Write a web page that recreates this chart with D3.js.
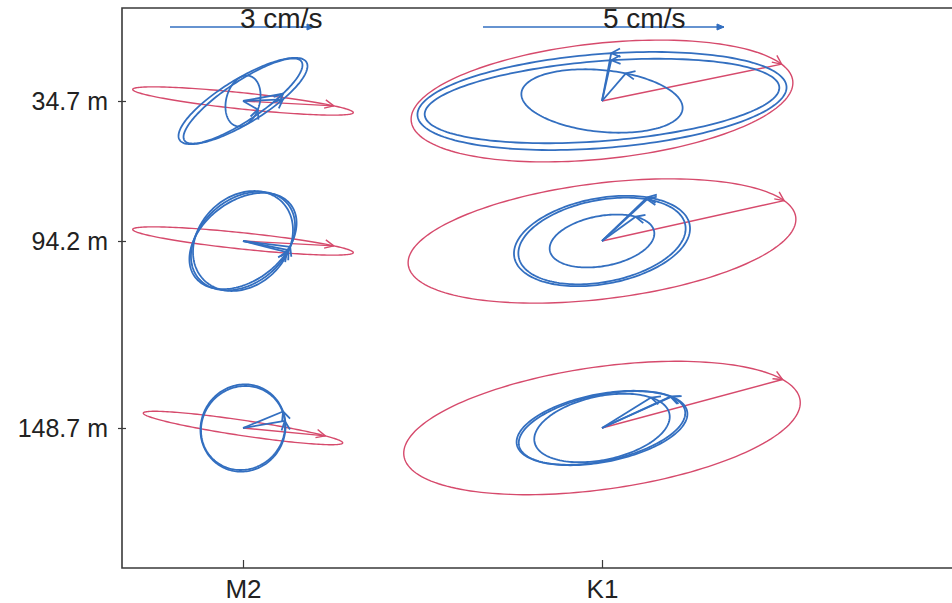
<!DOCTYPE html>
<html>
<head>
<meta charset="utf-8">
<script src="https://cdn.jsdelivr.net/npm/d3@7"></script>
<style>
  body { margin: 0; background: #fff; }
  text { font-family: "Liberation Sans", Arial, sans-serif; fill: #222; }
</style>
</head>
<body>
<svg id="chart" width="952" height="603"></svg>
<script>
// Tidal current ellipses by constituent (columns) and instrument depth (rows)
const constituents = ["M2", "K1"];
const depths = [34.7, 94.2, 148.7];
const depthLabels = ["34.7 m", "94.2 m", "148.7 m"];
const refSpeeds = [3, 5];            // cm/s, reference arrows
const refLabels = ["3 cm/s", "5 cm/s"];

// Red ellipses, [constituent][depth]; negative semi-minor = clockwise rotation
const redSemiMajor   = [[2.31, 2.31, 2.10], [3.98, 4.05, 4.15]];
const redSemiMinor   = [[-0.17, -0.17, -0.16], [-1.20, -1.20, -1.27]];
const redInclination = [[-6, -6, -8.5], [6, 7, 8]];
const redPhase       = [[35, 35, 35], [18, 18, 22]];

// Blue ellipses (several per panel)
const blueConstituent = [0, 0, 0,   0, 0, 0,   0, 0,   1, 1, 1,   1, 1, 1,   1, 1, 1];
const blueDepth       = [0, 0, 0,   1, 1, 1,   2, 2,   0, 0, 0,   1, 1, 1,   2, 2, 2];
const blueSemiMajor   = [1.55, 1.47, 0.54, 1.21, 1.15, 1.25, 0.92, 0.90, 3.84, 3.69, 1.68, 1.85, 1.76, 1.10, 1.80, 1.76, 1.43];
const blueSemiMinor   = [0.46, 0.40, 0.35, 0.875, 0.92, 0.83, 0.875, 0.85, 0.975, 0.83, 0.64, 0.89, 0.85, 0.52, 0.705, 0.685, 0.66];
const blueInclination = [31.5, 34, 75, 40, 45, 37, 60, 45, 4.5, 4.5, -5.7, 10.5, 11, 10.5, 11, 12, 12];
const bluePhase       = [-62, -58, -100, -60, -58, -62, -39, -37, 86, 86, 75, 54, 52, 45, 31, 30, 38];

const frame = { left: 122, top: 8, bottom: 568, right: 960 };
const redColor = "#d64a6c", blueColor = "#336fc0";
const labelFont = "Liberation Sans, Arial, sans-serif";

const svg = d3.select("#chart");

const x = d3.scaleLinear().domain([0, 1]).range([243, 602]);
const y = d3.scaleLinear().domain(depths).range([101, 241, 428]);
// pixel length per cm/s for each constituent column
const refLength = [144, 241];
const speed = constituents.map((c, i) => d3.scaleLinear().domain([0, refSpeeds[i]]).range([0, refLength[i]]));

// frame
svg.append("path")
  .attr("d", `M${frame.right},${frame.top}H${frame.left}V${frame.bottom}H${frame.right}`)
  .attr("fill", "none").attr("stroke", "#3a3a3a").attr("stroke-width", 1.6);

// axes
const xAxis = d3.axisBottom(x).tickValues([0, 1]).tickFormat(i => constituents[i])
  .tickSizeInner(-8).tickSizeOuter(0);
const gx = svg.append("g").attr("transform", `translate(0,${frame.bottom})`).call(xAxis);
gx.select(".domain").remove();
gx.selectAll(".tick line").attr("stroke", "#3a3a3a").attr("stroke-width", 1.2).attr("y1", 0).attr("y2", -8);
gx.selectAll(".tick text").attr("font-size", 26).attr("fill", "#222").attr("font-family", labelFont)
  .attr("y", 30).attr("dy", null);

const yAxis = d3.axisLeft(y).tickValues(depths).tickFormat((d, i) => depthLabels[i])
  .tickSizeInner(4).tickSizeOuter(0).tickPadding(10);
const gy = svg.append("g").attr("transform", `translate(${frame.left},0)`).call(yAxis);
gy.select(".domain").remove();
gy.selectAll(".tick line").attr("stroke", "#3a3a3a").attr("stroke-width", 1.2).attr("x2", 4).attr("x1", -4);
gy.selectAll(".tick text").attr("font-size", 25).attr("fill", "#222").attr("font-family", labelFont)
  .attr("x", -14).attr("dy", "0.35em");

// ellipse geometry in screen pixels
function ellipsePoint(ci, di, a, b, inc, phiDeg) {
  const s = speed[ci];
  const t = inc * Math.PI / 180, p = phiDeg * Math.PI / 180;
  const ex = a * Math.cos(p), ey = Math.abs(b) * Math.sin(p);
  const ux = ex * Math.cos(t) - ey * Math.sin(t);
  const uy = ex * Math.sin(t) + ey * Math.cos(t);
  return [x(ci) + s(ux), y(depths[di]) - s(uy)];
}
function tangent(a, b, inc, phiDeg) {
  const t = inc * Math.PI / 180, p = phiDeg * Math.PI / 180;
  const sgn = b < 0 ? -1 : 1;
  const ex = -a * Math.sin(p) * sgn, ey = Math.abs(b) * Math.cos(p) * sgn;
  const ux = ex * Math.cos(t) - ey * Math.sin(t);
  const uy = ex * Math.sin(t) + ey * Math.cos(t);
  const len = Math.hypot(ux, uy) || 1;
  return [ux / len, -uy / len];
}
const angles = d3.range(0, 360, 2);
const closedLine = d3.line().curve(d3.curveLinearClosed);

function drawEllipse(g, ci, di, a, b, inc, phase, color, width) {
  g.append("path")
    .attr("d", closedLine(angles.map(ph => ellipsePoint(ci, di, a, b, inc, ph))))
    .attr("fill", "none").attr("stroke", color).attr("stroke-width", width);
  const tip = ellipsePoint(ci, di, a, b, inc, phase);
  const c = [x(ci), y(depths[di])];
  g.append("line")
    .attr("x1", c[0]).attr("y1", c[1]).attr("x2", tip[0]).attr("y2", tip[1])
    .attr("stroke", color).attr("stroke-width", width);
  const d = tangent(a, b, inc, phase);
  const L = 10, w = 25 * Math.PI / 180;
  const wing = sgn => {
    const bx = -d[0], by = -d[1];
    const rx = bx * Math.cos(sgn * w) - by * Math.sin(sgn * w);
    const ry = bx * Math.sin(sgn * w) + by * Math.cos(sgn * w);
    return [tip[0] + L * rx, tip[1] + L * ry];
  };
  g.append("path")
    .attr("d", d3.line()([wing(1), tip, wing(-1)]))
    .attr("fill", "none").attr("stroke", color).attr("stroke-width", width)
    .attr("stroke-linejoin", "round");
}

const gRed = svg.append("g");
constituents.forEach((c, ci) => depths.forEach((dep, di) => {
  drawEllipse(gRed, ci, di, redSemiMajor[ci][di], redSemiMinor[ci][di],
    redInclination[ci][di], redPhase[ci][di], redColor, 1.4);
}));

const gBlue = svg.append("g");
blueSemiMajor.forEach((a, k) => {
  drawEllipse(gBlue, blueConstituent[k], blueDepth[k], a, blueSemiMinor[k],
    blueInclination[k], bluePhase[k], blueColor, 1.8);
});

// reference speed arrows
const refStart = [170, 483];
const refTextX = [240, 603];
const gRef = svg.append("g");
constituents.forEach((c, ci) => {
  const x0 = refStart[ci], x1 = x0 + speed[ci](refSpeeds[ci]), yy = 27;
  gRef.append("line").attr("x1", x0).attr("x2", x1).attr("y1", yy).attr("y2", yy)
    .attr("stroke", blueColor).attr("stroke-width", 1.4);
  gRef.append("path")
    .attr("d", `M${x1 - 7},${yy - 3}L${x1},${yy}L${x1 - 7},${yy + 3}Z`)
    .attr("fill", blueColor).attr("stroke", blueColor).attr("stroke-width", 1);
  gRef.append("text").attr("x", refTextX[ci]).attr("y", yy + 1)
    .attr("font-size", 28).text(refLabels[ci]);
});
</script>
</body>
</html>
